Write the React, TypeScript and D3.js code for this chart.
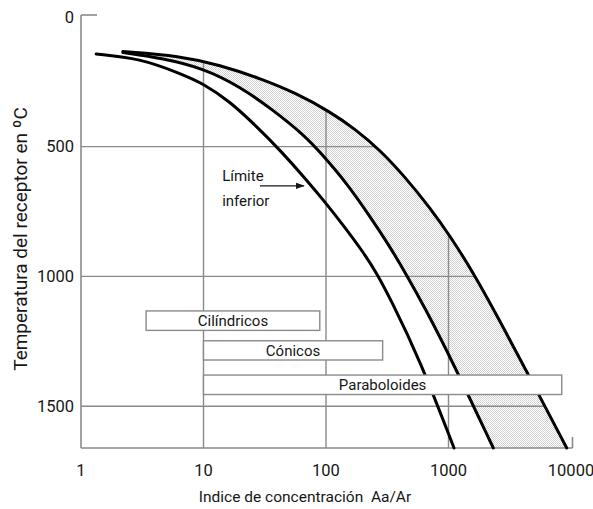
import * as d3 from "d3";

// concentration ratio Aa/Ar (log axis) vs receiver temperature (ºC, axis pointing down)
const innerC = [1.33, 3.03, 6.43, 9.9, 16.5, 27.2, 42.1, 69.6, 95.1, 138, 201, 259, 333, 585, 1109];
const innerT = [143, 160, 218, 256, 327, 423, 513, 629, 706, 802, 906, 987, 1083, 1322, 1661];

const middleC = [2.2, 4.67, 9.9, 19.9, 36.9, 67.4, 89.3, 148, 229, 333, 458, 643, 1062, 2322];
const middleT = [138, 160, 198, 269, 359, 459, 521, 641, 770, 886, 997, 1122, 1322, 1661];

const outerC = [2.2, 6.43, 13.6, 28.9, 57.6, 108, 172.6, 276, 442, 707, 1028, 1585, 2633, 4456, 9226];
const outerT = [134, 151, 186, 237, 295, 366, 432, 513, 617, 736, 844, 983, 1172, 1376, 1661];

const xTicks = [1, 10, 100, 1000, 10000];
const yTicks = [0, 500, 1000, 1500];
const xGrid = [10, 100, 1000];
const yGrid = [500, 1000, 1500];

const boxLabels = ["Cilíndricos", "Cónicos", "Paraboloides"];
const boxFrom = [3.4, 10, 10];
const boxTo = [89, 290, 8400];
const boxTop = [1133, 1248, 1380];
const boxBottom = [1208, 1322, 1455];

const noteLines = ["Límite", "inferior"];
const noteC = 14.2;
const noteT = [632, 729];
const arrowC = [28.9, 66];
const arrowT = 651;

const W = 593;
const H = 509;
const T_MAX = 1661;

const x = d3.scaleLog().domain([1, 10000]).range([81, 571]);
const y = d3.scaleLinear().domain([0, T_MAX]).range([16.8, 448]);

const zip = (cs: number[], ts: number[]) => cs.map((c, i) => [c, ts[i]] as [number, number]);

const line = d3
  .line<[number, number]>()
  .x((d) => x(d[0]))
  .y((d) => y(d[1]))
  .curve(d3.curveBasis);

const inner = zip(innerC, innerT);
const middle = zip(middleC, middleT);
const outer = zip(outerC, outerT);

const font = "Roboto, 'Open Sans', sans-serif";
const ink = "#161616";
const gridCol = "#8a8a8a";

export default function App() {
  const band = line(middle)! + line(outer.slice().reverse())!.replace(/^M/, "L") + "Z";
  const clip = line(outer)! + `L${x(1)},${y(T_MAX)}L${x(1)},${y(outerT[0])}Z`;
  const x0 = x(1);
  const yb = y(T_MAX);

  return (
    <svg
      width={W}
      height={H}
      style={{ position: "absolute", left: 0, top: 0, background: "#fff" }}
      fontFamily={font}
    >
      <defs>
        <pattern id="dots" width="2" height="2" patternUnits="userSpaceOnUse">
          <rect width="2" height="2" fill="#fff" />
          <rect width="1" height="1" fill="#d2d2d2" />
          <rect x="1" y="1" width="1" height="1" fill="#d2d2d2" />
        </pattern>
        <clipPath id="under">
          <path d={clip} />
        </clipPath>
        <marker id="arrow" viewBox="0 0 10 10" refX="9" refY="5" markerWidth="7" markerHeight="7" orient="auto">
          <path d="M0,1.5L10,5L0,8.5Z" fill={ink} />
        </marker>
      </defs>

      <path d={band} fill="url(#dots)" stroke="none" />

      <g clipPath="url(#under)" stroke={gridCol} strokeWidth={1.4}>
        {yGrid.map((t) => (
          <line key={"h" + t} x1={x0} x2={x(10000)} y1={y(t)} y2={y(t)} />
        ))}
        {xGrid.map((c) => (
          <line key={"v" + c} x1={x(c)} x2={x(c)} y1={0} y2={yb} />
        ))}
      </g>

      {/* axes */}
      <g stroke={gridCol} strokeWidth={1.6} fill="none">
        <line x1={x0} x2={x0} y1={15} y2={yb} />
        <line x1={x0} x2={x0 + 16} y1={15} y2={15} />
        <line x1={x0} x2={x(10000) + 1.5} y1={yb} y2={yb} />
        <line x1={x(10000) + 1.5} x2={x(10000) + 1.5} y1={yb - 11} y2={yb} />
      </g>

      <g fill="none" stroke="#000" strokeWidth={3} strokeLinecap="round">
        <path d={line(inner)!} />
        <path d={line(middle)!} />
        <path d={line(outer)!} />
      </g>

      {boxLabels.map((lab, i) => (
        <g key={lab}>
          <rect
            x={x(boxFrom[i])}
            y={y(boxTop[i])}
            width={x(boxTo[i]) - x(boxFrom[i])}
            height={y(boxBottom[i]) - y(boxTop[i])}
            fill="#fff"
            stroke={gridCol}
            strokeWidth={1.4}
          />
          <text
            x={(x(boxFrom[i]) + x(boxTo[i])) / 2}
            y={(y(boxTop[i]) + y(boxBottom[i])) / 2}
            dy="0.35em"
            textAnchor="middle"
            fontSize={15}
            fill={ink}
          >
            {lab}
          </text>
        </g>
      ))}

      {noteLines.map((s, i) => (
        <text key={s} x={x(noteC)} y={y(noteT[i])} fontSize={15} fill={ink}>
          {s}
        </text>
      ))}
      <line
        x1={x(arrowC[0])}
        x2={x(arrowC[1])}
        y1={y(arrowT)}
        y2={y(arrowT)}
        stroke={ink}
        strokeWidth={1.3}
        markerEnd="url(#arrow)"
      />

      {yTicks.map((t) => (
        <text key={"yt" + t} x={74} y={y(t)} dy="0.35em" textAnchor="end" fontSize={16.5} fill={ink}>
          {t}
        </text>
      ))}
      {xTicks.map((c) => (
        <text key={"xt" + c} x={x(c)} y={476} textAnchor="middle" fontSize={16.5} fill={ink}>
          {c}
        </text>
      ))}

      <text x={305} y={502} textAnchor="middle" fontSize={15.5} fill={ink} style={{ whiteSpace: "pre" }}>
        {"Indice de concentración  Aa/Ar"}
      </text>
      <text transform={`translate(27, 239) rotate(-90)`} textAnchor="middle" fontSize={19} fill={ink}>
        Temperatura del receptor en ºC
      </text>
    </svg>
  );
}
